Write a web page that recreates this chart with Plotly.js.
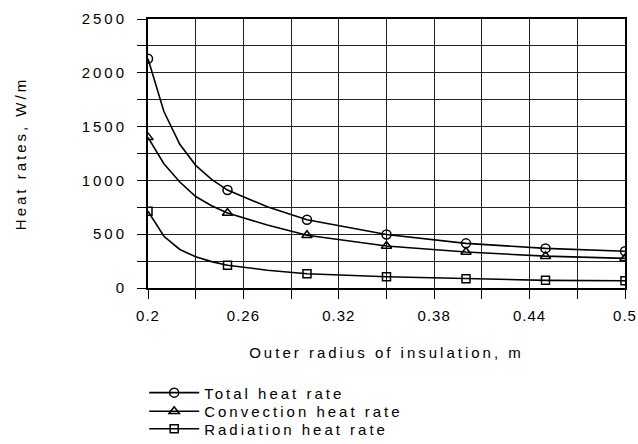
<!DOCTYPE html>
<html><head><meta charset="utf-8">
<script src="https://cdn.plot.ly/plotly-3.0.1.min.js"></script>
<style>
html,body{margin:0;padding:0;background:#fff;}
svg text{letter-spacing:3px;}
svg .xtick text{letter-spacing:1px;}
</style></head>
<body><div id="chart" style="width:638px;height:444px;"></div>
<script>
// Data
const radius = [0.2, 0.21, 0.22, 0.23, 0.24, 0.25, 0.275, 0.3, 0.35, 0.4, 0.45, 0.5];
const totalHeat = [2130, 1640, 1335, 1140, 1010, 910, 755, 634, 497, 415, 368, 342];
const convectionHeat = [1400, 1155, 985, 850, 765, 697, 585, 491, 390, 334, 296, 275];
const radiationHeat = [713, 481, 358, 290, 245, 212, 165, 133, 105, 86, 71, 68];
const markedRadii = [0.2, 0.25, 0.3, 0.35, 0.4, 0.45, 0.5];
const seriesNames = ['Total heat rate', 'Convection heat rate', 'Radiation heat rate'];
const xTitle = 'Outer radius of insulation, m';
const yTitle = 'Heat rates, W/m';

const symbols = ['circle-open', 'triangle-up-open', 'square-open'];
const sizes = [9, 9, 8];
const seriesValues = [totalHeat, convectionHeat, radiationHeat];
const legendIds = ['legend', 'legend2', 'legend3'];

const isMarked = r => markedRadii.some(m => Math.abs(m - r) < 1e-9);
const markerColors = radius.map(r => isMarked(r) ? '#000' : 'rgba(0,0,0,0)');

const traces = seriesValues.map((vals, i) => ({
  type: 'scatter',
  mode: 'lines+markers',
  x: radius,
  y: vals,
  name: seriesNames[i],
  legend: legendIds[i],
  line: {color: '#000', width: 1.6},
  marker: {symbol: symbols[i], size: sizes[i], color: markerColors, line: {width: 1.5}},
  cliponaxis: true,
  hoverinfo: 'skip'
}));

const axisCommon = {
  ticks: 'outside', ticklen: 9, tickwidth: 1, tickcolor: '#000',
  showgrid: true, gridcolor: '#222', gridwidth: 1,
  showline: true, linewidth: 2, linecolor: '#000', mirror: true,
  zeroline: false, tickfont: {size: 15, color: '#000'},
  ticklabeloverflow: 'allow'
};

const legendCommon = {
  x: -0.008, xanchor: 'left', yanchor: 'middle',
  bgcolor: 'rgba(0,0,0,0)', borderwidth: 0,
  font: {size: 15, color: '#000'}, itemwidth: 50
};

const layout = {
  width: 638, height: 444,
  margin: {l: 148, r: 13, t: 19, b: 156, autoexpand: false},
  paper_bgcolor: '#fff', plot_bgcolor: '#fff',
  font: {family: '"Liberation Sans", Arial, sans-serif', size: 15, color: '#000'},
  showlegend: true,
  xaxis: Object.assign({}, axisCommon, {
    range: [0.2, 0.5], tickmode: 'linear', tick0: 0.2, dtick: 0.06,
    ticklabelstandoff: 4,
    minor: {tick0: 0.2, dtick: 0.03, ticks: 'outside', ticklen: 9, tickcolor: '#000',
            showgrid: true, gridcolor: '#222', gridwidth: 1},
    title: {text: xTitle, standoff: 24, font: {size: 15}}
  }),
  yaxis: Object.assign({}, axisCommon, {
    range: [0, 2500], tickmode: 'linear', tick0: 0, dtick: 500,
    ticklabelstandoff: 7,
    minor: {tick0: 0, dtick: 250, ticks: 'outside', ticklen: 9, tickcolor: '#000',
            showgrid: true, gridcolor: '#222', gridwidth: 1},
    title: {text: yTitle, standoff: 51, font: {size: 15}}
  }),
  legend: Object.assign({}, legendCommon, {y: -0.39}),
  legend2: Object.assign({}, legendCommon, {y: -0.459}),
  legend3: Object.assign({}, legendCommon, {y: -0.524})
};

Plotly.newPlot('chart', traces, layout, {staticPlot: true, displayModeBar: false});
</script>
</body></html>
